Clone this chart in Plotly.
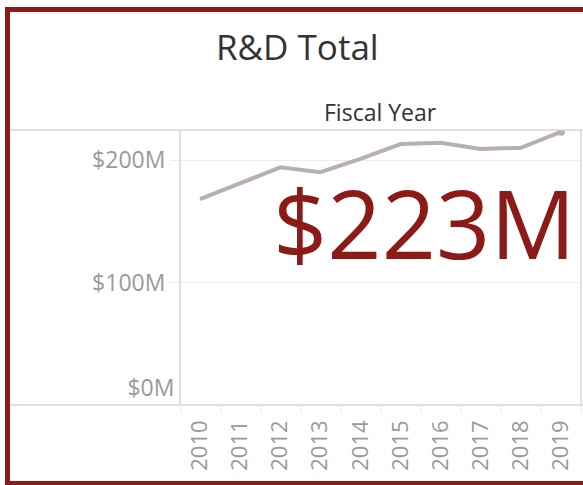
import plotly.graph_objects as go

# ---- data ----
years = [2010, 2011, 2012, 2013, 2014, 2015, 2016, 2017, 2018, 2019]
rd_total_musd = [168, 181, 194, 190, 201, 213, 214, 209, 210, 223]
y_tick_vals = [100, 200]
y_tick_text = ["$100M", "$200M"]
title_text = "R&D Total"
x_title_text = "Fiscal Year"

W, H = 583, 485
def px(x):
    return x / W
def py(y):
    return 1 - y / H

DARK_RED = "#8b1a1a"
LINE_COL = "#bab0ab"
GRID_COL = "#ececec"
FRAME_COL = "#d6d6d6"
TICK_FONT = dict(family="Open Sans", size=23, color="#9a9a9a")

fig = go.Figure()
fig.add_trace(go.Scatter(
    x=years, y=rd_total_musd, mode="lines",
    line=dict(color=LINE_COL, width=4),
    hoverinfo="skip", showlegend=False))
fig.add_trace(go.Scatter(
    x=[years[-1]], y=[rd_total_musd[-1]], mode="markers",
    marker=dict(color=LINE_COL, size=8),
    hoverinfo="skip", showlegend=False))
# invisible trace for the zero label axis
fig.add_trace(go.Scatter(x=[years[0]], y=[0], yaxis="y2", mode="markers",
                         marker=dict(opacity=0), hoverinfo="skip", showlegend=False))

fig.update_layout(
    width=W, height=H,
    margin=dict(l=0, r=0, t=0, b=0),
    paper_bgcolor="white", plot_bgcolor="white",
    xaxis=dict(
        domain=[px(180), px(581)],
        range=[2009.5, 2019.5],
        tickmode="array", tickvals=years, ticktext=[str(y) for y in years],
        tickangle=-90, tickfont=dict(family="Open Sans", size=22, color="#9a9a9a"),
        showgrid=False, zeroline=False, showline=False, ticks="",
        ticklabelstandoff=10,
        minor=dict(tick0=2009.5, dtick=1, ticks="outside", ticklen=7,
                   tickcolor="#ececec", showgrid=False),
    ),
    yaxis=dict(
        domain=[py(405), py(130)],
        range=[0, 224.5],
        tickmode="array", tickvals=y_tick_vals, ticktext=y_tick_text,
        tickfont=TICK_FONT, gridcolor=GRID_COL, gridwidth=1,
        ticks="outside", ticklen=9, tickcolor=GRID_COL,
        zeroline=False, showline=False,
    ),
    yaxis2=dict(
        overlaying="y", side="left",
        range=[0, 224.5],
        tickmode="array", tickvals=[0], ticktext=["$0M"],
        tickfont=TICK_FONT, ticklabelposition="outside top",
        showgrid=False, zeroline=False, showline=False, ticks="outside",
        ticklen=9, tickcolor="rgba(0,0,0,0)",
    ),
    shapes=[
        dict(type="line", xref="paper", yref="paper", x0=px(10), x1=1, y0=py(130), y1=py(130),
             line=dict(color=FRAME_COL, width=1.5)),
        dict(type="line", xref="paper", yref="paper", x0=px(10), x1=1, y0=py(405), y1=py(405),
             line=dict(color=FRAME_COL, width=1.5)),
        dict(type="line", xref="paper", yref="paper", x0=px(180), x1=px(180), y0=py(130), y1=py(405),
             line=dict(color=FRAME_COL, width=1.5)),
        dict(type="line", xref="paper", yref="paper", x0=px(581), x1=px(581), y0=py(130), y1=py(405),
             line=dict(color=FRAME_COL, width=1.5)),
        dict(type="rect", xref="paper", yref="paper", x0=px(7.5), x1=px(600), y0=py(483.5), y1=py(9.5),
             line=dict(color=DARK_RED, width=5), fillcolor="rgba(0,0,0,0)"),
    ],
    annotations=[
        dict(text=title_text, xref="paper", yref="paper", x=px(297), y=py(47),
             xanchor="center", yanchor="middle", showarrow=False,
             font=dict(family="Open Sans", size=35, color="#333333")),
        dict(text=x_title_text, xref="paper", yref="paper", x=px(380), y=py(112),
             xanchor="center", yanchor="middle", showarrow=False,
             font=dict(family="Open Sans", size=23, color="#333333")),
        dict(text=f"${rd_total_musd[-1]}M", xref="paper", yref="paper", x=px(424), y=py(222),
             xanchor="center", yanchor="middle", showarrow=False,
             font=dict(family="Open Sans", size=95, color="#8c1a17", weight=500)),
    ],
)

fig.write_html(
    "out.html",
    config={"displayModeBar": False},
    post_script="document.body.style.margin='0';document.body.style.overflow='hidden';",
)
